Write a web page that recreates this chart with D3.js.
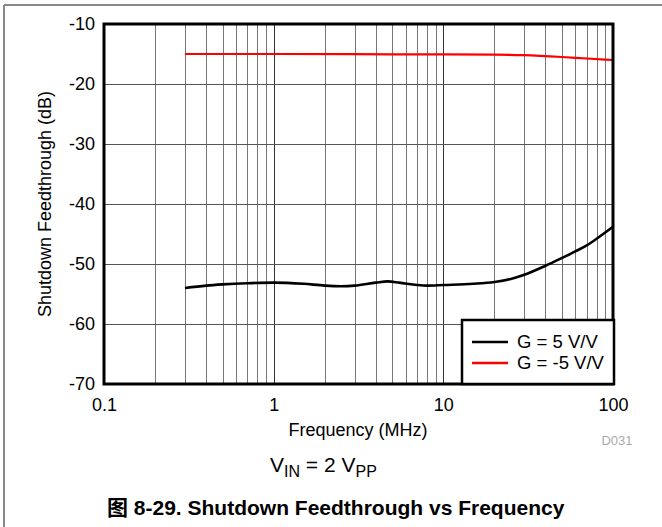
<!DOCTYPE html>
<html><head><meta charset="utf-8">
<script src="https://cdn.jsdelivr.net/npm/d3@7/dist/d3.min.js"></script>
<style>body{margin:0;background:#fff}svg{display:block;font-family:"Liberation Sans",Arial,sans-serif}</style>
</head><body><svg id="c" width="662" height="527"></svg>
<script>
const xTicks = [0.1, 1, 10, 100];
const yTicks = [-10, -20, -30, -40, -50, -60, -70];
const blackFreq = [0.3, 0.4, 0.5, 0.7, 1, 1.5, 2, 2.5, 3, 4, 4.7, 5.5, 7, 8, 10, 15, 20, 25, 30, 40, 50, 60, 70, 80, 100];
const blackDb   = [-54.0, -53.6, -53.4, -53.2, -53.1, -53.3, -53.6, -53.7, -53.6, -53.1, -52.9, -53.1, -53.5, -53.6, -53.5, -53.3, -53.0, -52.5, -51.8, -50.3, -49.0, -47.9, -46.9, -45.8, -43.8];
const redFreq = [0.3, 1, 5, 10, 20, 30, 50, 70, 100];
const redDb   = [-15.0, -15.0, -15.05, -15.05, -15.1, -15.2, -15.5, -15.75, -16.0];
const legendLabels = ["G = 5 V/V", "G = -5 V/V"];
const colors = ["#000000", "#ff0000"];

const svg = d3.select("#c");
const L = 104, R = 613, T = 24, B = 384;
const x = d3.scaleLog().domain([0.1, 100]).range([L, R]);
const y = d3.scaleLinear().domain([-70, -10]).range([B, T]);

// outer frame
svg.append("line").attr("x1", 4).attr("x2", 662).attr("y1", 5).attr("y2", 5).attr("stroke", "#888").attr("stroke-width", 2);
svg.append("line").attr("x1", 4).attr("x2", 4).attr("y1", 5).attr("y2", 527).attr("stroke", "#888").attr("stroke-width", 2);

// grid
const minor = [];
for (let d = 0.1; d < 100; d *= 10) for (let k = 2; k <= 9; k++) minor.push(d * k);
svg.append("g").selectAll("line").data(minor.concat([1, 10])).join("line")
  .attr("x1", d => Math.round(x(d)) + 0.5).attr("x2", d => Math.round(x(d)) + 0.5)
  .attr("y1", T).attr("y2", B).attr("stroke", d => (d === 1 || d === 10) ? "#333" : "#777").attr("stroke-width", 1);
svg.append("g").selectAll("line").data(yTicks.slice(1, -1)).join("line")
  .attr("x1", L).attr("x2", R).attr("y1", d => Math.round(y(d)) + 0.5).attr("y2", d => Math.round(y(d)) + 0.5)
  .attr("stroke", "#555").attr("stroke-width", 1);

// axes labels via d3 axes
const xAxis = d3.axisBottom(x).tickValues(xTicks).tickFormat(d => String(d)).tickSize(0).tickPadding(14);
const gx = svg.append("g").attr("transform", `translate(0,${B})`).call(xAxis);
gx.select(".domain").remove();
gx.selectAll("text").attr("font-size", 18).attr("fill", "#000").attr("font-family", "Liberation Sans, Arial, sans-serif");
const yAxis = d3.axisLeft(y).tickValues(yTicks).tickFormat(d => String(d)).tickSize(0).tickPadding(9);
const gy = svg.append("g").attr("transform", `translate(${L},0)`).call(yAxis);
gy.select(".domain").remove();
gy.selectAll("text").attr("font-size", 18).attr("fill", "#000").attr("font-family", "Liberation Sans, Arial, sans-serif");

// lines
const line = d3.line().x(d => x(d[0])).y(d => y(d[1])).curve(d3.curveMonotoneX);
svg.append("path").datum(blackFreq.map((f, i) => [f, blackDb[i]])).attr("d", line)
  .attr("fill", "none").attr("stroke", colors[0]).attr("stroke-width", 2.6);
svg.append("path").datum(redFreq.map((f, i) => [f, redDb[i]])).attr("d", line)
  .attr("fill", "none").attr("stroke", colors[1]).attr("stroke-width", 2.2);

// plot frame
svg.append("rect").attr("x", L).attr("y", T).attr("width", R - L).attr("height", B - T)
  .attr("fill", "none").attr("stroke", "#000").attr("stroke-width", 3);

// legend
const lg = svg.append("g");
lg.append("rect").attr("x", 462).attr("y", 320).attr("width", 152).attr("height", 64)
  .attr("fill", "#fff").attr("stroke", "#000").attr("stroke-width", 2.5);
legendLabels.forEach((t, i) => {
  const yy = 342 + i * 21;
  lg.append("line").attr("x1", 472).attr("x2", 508).attr("y1", yy).attr("y2", yy).attr("stroke", colors[i]).attr("stroke-width", 2.5);
  lg.append("text").attr("x", 517).attr("y", yy + 6).attr("font-size", 18.5).text(t);
});

// axis titles
svg.append("text").attr("x", 358).attr("y", 436).attr("text-anchor", "middle").attr("font-size", 18).text("Frequency (MHz)");
svg.append("text").attr("transform", "translate(51,204) rotate(-90)").attr("text-anchor", "middle").attr("font-size", 18).text("Shutdown Feedthrough (dB)");
svg.append("text").attr("x", 617).attr("y", 445).attr("text-anchor", "middle").attr("font-size", 13).attr("fill", "#aaa").text("D031");

// condition
const vt = svg.append("text").attr("x", 270).attr("y", 472).attr("font-size", 21);
vt.append("tspan").text("V");
vt.append("tspan").attr("font-size", 16).attr("dy", 5).text("IN");
vt.append("tspan").attr("dy", -5).text(" = 2 V");
vt.append("tspan").attr("font-size", 16).attr("dy", 5).text("PP");

// caption
svg.append("text").attr("x", 107).attr("y", 515).attr("font-size", 21).attr("font-weight", "bold")
  .attr("font-family", "Liberation Sans, 'Noto Sans CJK SC', Arial, sans-serif")
  .text("图 8-29. Shutdown Feedthrough vs Frequency");
</script></body></html>
